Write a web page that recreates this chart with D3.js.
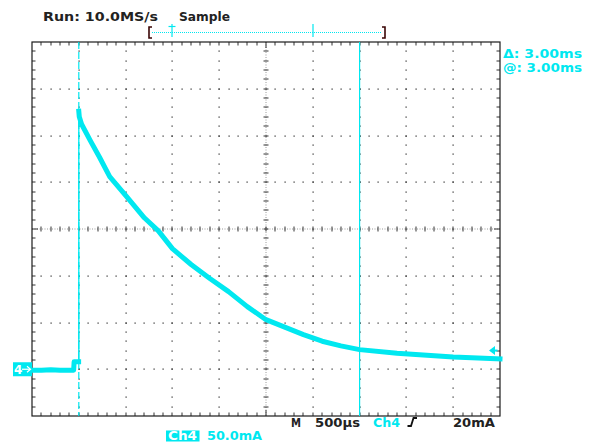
<!DOCTYPE html>
<html>
<head>
<meta charset="utf-8">
<script src="https://cdn.jsdelivr.net/npm/d3@7"></script>
<style>
  html, body { margin: 0; padding: 0; background: #fff; }
  svg { display: block; }
  text { font-family: "DejaVu Sans", "Liberation Sans", sans-serif; font-weight: bold; }
</style>
</head>
<body>
<svg id="chart" width="591" height="442"></svg>
<script>
// Channel 4 current capture: 500 µs/div horizontally, 50 mA/div vertically.
const timeUs    = [-500, -400, -300, -200, -100, -55, -50, -2,
                   0, 5, 30, 120, 220, 330, 500, 700, 850, 1000, 1200, 1400,
                   1600, 1800, 2000, 2200, 2400, 2600, 2800, 3000, 3400, 4000, 4500];
const currentMa = [-1, -1, -0.5, -1, -1, -1, 8, 8,
                   276, 270, 262, 245, 227, 206, 186, 162, 148, 129, 112, 97,
                   83, 67, 53, 45, 37, 30, 25, 21, 17, 13, 11];

const timeMajorUs    = d3.range(-500, 4501, 500);
const timeMinorUs    = d3.range(-500, 4501, 100);
const currentMajorMa = d3.range(-50, 351, 50);
const currentMinorMa = d3.range(-50, 351, 10);

const triggerTimeUs  = 0;
const cursorTimeUs   = 3000;
const triggerLevelMa = 20;
const groundMa       = 0;

const CYAN = "#00e8f0";
const INK  = "#1c1c1c";
const DOT  = "#2a2a2a";

const svg = d3.select("#chart");
const x = d3.scaleLinear().domain([-500, 4500]).range([32, 500]);
const y = d3.scaleLinear().domain([-50, 350]).range([416, 42]);
const [x0, x1] = x.range();
const [y1, y0] = y.range();
const xc = x(2000), yc = y(150);

// ---- graticule ----
const grid = svg.append("g");
const inner = a => a.slice(1, -1);

// dotted major division lines
inner(timeMajorUs).filter(t => t !== 2000).forEach(t => {
  inner(currentMinorMa).forEach(c => {
    grid.append("rect").attr("x", Math.round(x(t)) - 0.5).attr("y", Math.round(y(c)) - 0.5)
      .attr("width", 1.2).attr("height", 1.2).attr("fill", DOT);
  });
});
inner(currentMajorMa).filter(c => c !== 150).forEach(c => {
  inner(timeMinorUs).forEach(t => {
    grid.append("rect").attr("x", Math.round(x(t)) - 0.5).attr("y", Math.round(y(c)) - 0.5)
      .attr("width", 1.2).attr("height", 1.2).attr("fill", DOT);
  });
});

// centre cross with minor ticks
grid.append("line").attr("x1", x0).attr("x2", x1).attr("y1", Math.round(yc)).attr("y2", Math.round(yc))
  .attr("stroke", "#9a9a9a").attr("stroke-dasharray", "1,1.5");
grid.append("line").attr("y1", y0).attr("y2", y1).attr("x1", Math.round(xc)).attr("x2", Math.round(xc))
  .attr("stroke", "#9a9a9a").attr("stroke-dasharray", "1,1.5");
inner(timeMinorUs).forEach(t => {
  grid.append("line").attr("x1", Math.round(x(t))).attr("x2", Math.round(x(t)))
    .attr("y1", Math.round(yc) - 2.5).attr("y2", Math.round(yc) + 2.5).attr("stroke", "#333");
});
inner(currentMinorMa).forEach(c => {
  grid.append("line").attr("y1", Math.round(y(c))).attr("y2", Math.round(y(c)))
    .attr("x1", Math.round(xc) - 2.5).attr("x2", Math.round(xc) + 2.5).attr("stroke", "#333");
});

// border ticks
inner(timeMinorUs).forEach(t => {
  const len = t === 2000 ? 6 : 3.5;
  const px = Math.round(x(t));
  grid.append("line").attr("x1", px).attr("x2", px).attr("y1", y0).attr("y2", y0 + len).attr("stroke", "#333");
  grid.append("line").attr("x1", px).attr("x2", px).attr("y1", y1).attr("y2", y1 - len).attr("stroke", "#333");
});
inner(currentMinorMa).forEach(c => {
  const len = c === 150 ? 6 : 3.5;
  const py = Math.round(y(c));
  grid.append("line").attr("y1", py).attr("y2", py).attr("x1", x0).attr("x2", x0 + len).attr("stroke", "#333");
  grid.append("line").attr("y1", py).attr("y2", py).attr("x1", x1).attr("x2", x1 - len).attr("stroke", "#333");
});

grid.append("rect").attr("x", x0).attr("y", y0).attr("width", x1 - x0).attr("height", y1 - y0)
  .attr("fill", "none").attr("stroke", INK).attr("stroke-width", 1.2);

// ---- trigger position and cursor ----
svg.append("line").attr("x1", x(triggerTimeUs)).attr("x2", x(triggerTimeUs)).attr("y1", y0).attr("y2", y1)
  .attr("stroke", CYAN).attr("stroke-width", 1.2).attr("stroke-dasharray", "7,3");
svg.append("line").attr("x1", x(cursorTimeUs)).attr("x2", x(cursorTimeUs)).attr("y1", y0).attr("y2", y1)
  .attr("stroke", CYAN).attr("stroke-width", 1.2);

// ---- waveform ----
const pts = timeUs.map((t, i) => ({ t, v: currentMa[i] }));
const line = d3.line().x(d => x(d.t)).y(d => y(d.v));
const pre  = pts.filter(d => d.t < triggerTimeUs);
const post = pts.filter(d => d.t >= triggerTimeUs);
// fast rising edge
svg.append("line").attr("x1", x(triggerTimeUs)).attr("x2", x(triggerTimeUs))
  .attr("y1", y(pre[pre.length - 1].v)).attr("y2", y(post[0].v))
  .attr("stroke", CYAN).attr("stroke-width", 1.3);
[pre, post].forEach(seg => {
  svg.append("path").attr("d", line(seg)).attr("fill", "none")
    .attr("stroke", CYAN).attr("stroke-width", 5)
    .attr("stroke-linejoin", "round").attr("stroke-linecap", "square");
});

// ---- ground marker "4→" ----
const gy = y(groundMa);
svg.append("rect").attr("x", 13).attr("y", gy - 7).attr("width", 19).attr("height", 14).attr("fill", CYAN);
svg.append("text").attr("x", 14).attr("y", gy + 5).attr("font-size", 12).attr("fill", "#fff").text("4");
svg.append("line").attr("x1", 22).attr("x2", 30).attr("y1", gy).attr("y2", gy).attr("stroke", "#fff").attr("stroke-width", 1.2);
svg.append("path").attr("d", `M27,${gy - 3} L30.5,${gy} L27,${gy + 3}`).attr("fill", "none").attr("stroke", "#fff").attr("stroke-width", 1.2);

// ---- trigger level arrow ----
const ty = y(triggerLevelMa);
svg.append("path").attr("d", `M489,${ty} L495,${ty - 4.5} L495,${ty + 4.5} Z`).attr("fill", CYAN);
svg.append("line").attr("x1", 494).attr("x2", 497.5).attr("y1", ty).attr("y2", ty).attr("stroke", CYAN).attr("stroke-width", 2);

// ---- record bar ----
const barY = 32.5;
svg.append("line").attr("x1", 152).attr("x2", 382).attr("y1", barY).attr("y2", barY)
  .attr("stroke", CYAN).attr("stroke-width", 1).attr("stroke-dasharray", "1,1");
svg.append("path").attr("d", "M152,27 L149,27 L149,38 L152,38").attr("fill", "none").attr("stroke", "#3a0505").attr("stroke-width", 1.6);
svg.append("path").attr("d", "M382,27 L385,27 L385,38 L382,38").attr("fill", "none").attr("stroke", "#3a0505").attr("stroke-width", 1.6);
svg.append("line").attr("x1", 172).attr("x2", 172).attr("y1", 24).attr("y2", 37).attr("stroke", CYAN).attr("stroke-width", 1.2);
svg.append("line").attr("x1", 168.5).attr("x2", 175.5).attr("y1", 26.5).attr("y2", 26.5).attr("stroke", CYAN).attr("stroke-width", 1.2);
svg.append("line").attr("x1", 313).attr("x2", 313).attr("y1", 24).attr("y2", 37).attr("stroke", CYAN).attr("stroke-width", 1.2);

// ---- readouts ----
function label(txt, px, py, size, width, fill) {
  return svg.append("text").attr("x", px).attr("y", py).attr("font-size", size)
    .attr("fill", fill).attr("textLength", width).attr("lengthAdjust", "spacingAndGlyphs").text(txt);
}
label("Run: 10.0MS/s", 43, 21, 12.5, 115, "#222");
label("Sample", 179, 21, 12.5, 51, "#222");
label("\u0394: 3.00ms", 503, 58, 12, 79, CYAN);
label("@: 3.00ms", 503, 72, 12, 79, CYAN);

label("M", 291, 427, 12.5, 10, "#222");
label("500\u00b5s", 315, 427, 12.5, 45, "#222");
label("Ch4", 373, 427, 12.5, 27, CYAN);
svg.append("path").attr("d", "M407.5,426 L411,426 L413.5,418 L417,418")
  .attr("fill", "none").attr("stroke", "#111").attr("stroke-width", 1.8);
label("20mA", 453, 427, 12.5, 42, "#222");

svg.append("rect").attr("x", 166).attr("y", 430.5).attr("width", 33.5).attr("height", 11).attr("fill", CYAN);
label("Ch4", 168, 440, 11.5, 29, "#fff");
label("50.0mA", 207, 440, 12, 55, CYAN);
</script>
</body>
</html>
